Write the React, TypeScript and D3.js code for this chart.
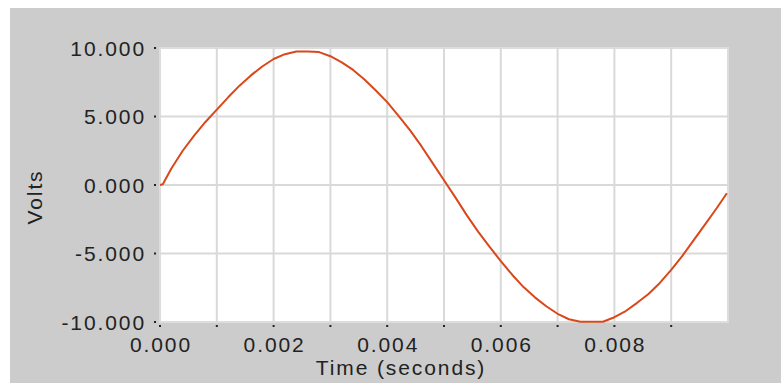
import React from "react";
import * as d3 from "d3";

const times: number[] = [
  0.0, 0.00005, 0.0002, 0.0004, 0.0006, 0.0008, 0.001, 0.0012, 0.0014, 0.0016, 0.0018,
  0.002, 0.0022, 0.0024, 0.0026, 0.0028, 0.003, 0.0032, 0.0034, 0.0036, 0.0038,
  0.004, 0.0042, 0.0044, 0.0046, 0.0048, 0.005, 0.0052, 0.0054, 0.0056, 0.0058,
  0.006, 0.0062, 0.0064, 0.0066, 0.0068, 0.007, 0.0072, 0.0074, 0.0076, 0.0078,
  0.008, 0.0082, 0.0084, 0.0086, 0.0088, 0.009, 0.0092, 0.0094, 0.0096, 0.0098,
  0.00998,
];
const volts: number[] = [
  0.0, 0.05, 1.2, 2.5, 3.6, 4.6, 5.5, 6.4, 7.25, 8.0, 8.65,
  9.2, 9.55, 9.75, 9.75, 9.7, 9.4, 8.95, 8.4, 7.7, 6.9,
  6.05, 5.05, 4.0, 2.85, 1.6, 0.35, -0.9, -2.2, -3.4, -4.5,
  -5.55, -6.55, -7.45, -8.2, -8.85, -9.4, -9.8, -9.98, -9.98, -9.98,
  -9.65, -9.2, -8.6, -7.95, -7.15, -6.2, -5.15, -4.0, -2.85, -1.7,
  -0.6,
];
const xTickValues: number[] = [0, 0.002, 0.004, 0.006, 0.008];
const xGridValues: number[] = [0.001, 0.002, 0.003, 0.004, 0.005, 0.006, 0.007, 0.008, 0.009];
const xMinorTicks: number[] = [0, 0.001, 0.002, 0.003, 0.004, 0.005, 0.006, 0.007, 0.008, 0.009];
const yTickValues: number[] = [-10, -5, 0, 5, 10];
const xLabel = "Time (seconds)";
const yLabel = "Volts";

export default function App() {
  const W = 781;
  const H = 383;
  const left = 160, right = 728, top = 48, bottom = 322;
  const x = d3.scaleLinear().domain([0, 0.01]).range([left, right]);
  const y = d3.scaleLinear().domain([-10, 10]).range([bottom, top]);
  const data = times.map((t, i) => ({ t, v: volts[i] }));
  const line = d3
    .line<{ t: number; v: number }>()
    .x((d) => x(d.t))
    .y((d) => y(d.v));
  const fmt = (v: number) => v.toFixed(3);
  const font = "'Liberation Sans', Arial, sans-serif";
  const textStyle = { fontFamily: font, fontSize: 21, letterSpacing: "1.9px", fill: "#222222" } as const;

  return (
    <svg width={W} height={H} style={{ position: "absolute", left: 0, top: 0 }}>
      <rect x={10} y={8} width={W - 10} height={H - 8} fill="#cccccc" />
      <rect x={left} y={top} width={right - left} height={bottom - top} fill="#ffffff" stroke="#dddddd" strokeWidth={2} />
      {xGridValues.map((v) => (
        <line key={"gx" + v} x1={x(v)} x2={x(v)} y1={top} y2={bottom} stroke="#d9d9d9" strokeWidth={2} />
      ))}
      {yTickValues.filter((v) => v !== 10 && v !== -10).map((v) => (
        <line key={"gy" + v} x1={left} x2={right} y1={y(v)} y2={y(v)} stroke="#d9d9d9" strokeWidth={2} />
      ))}
      <path d={line(data) || ""} fill="none" stroke="#d9481b" strokeWidth={2} strokeLinejoin="round" />
      {yTickValues.map((v) => (
        <g key={"yt" + v}>
          <rect x={left - 6} y={y(v) - 1} width={2} height={2} fill="#222" />
          <text x={146} y={y(v) + 7.5} textAnchor="end" style={textStyle}>
            {fmt(v)}
          </text>
        </g>
      ))}
      {xMinorTicks.map((v) => (
        <rect key={"xm" + v} x={x(v) - 1} y={bottom + 3} width={2} height={2} fill="#222" />
      ))}
      {xTickValues.map((v) => (
        <text key={"xt" + v} x={x(v) + 1} y={352} textAnchor="middle" style={textStyle}>
          {fmt(v)}
        </text>
      ))}
      <text x={401} y={375} textAnchor="middle" style={textStyle}>
        {xLabel}
      </text>
      <text transform={`translate(42,197) rotate(-90)`} textAnchor="middle" style={textStyle}>
        {yLabel}
      </text>
    </svg>
  );
}
